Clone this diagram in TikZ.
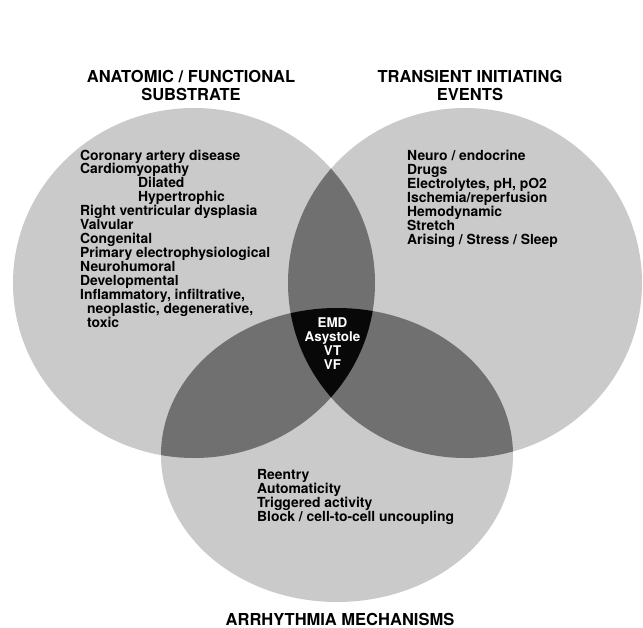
\documentclass[tikz,border=0pt]{standalone}
\usepackage{fontspec}
\setmainfont{TeX Gyre Heros}
\definecolor{onezone}{RGB}{202,202,202}
\definecolor{twozone}{RGB}{112,112,112}
\definecolor{threezone}{RGB}{8,8,8}
\begin{document}
\begin{tikzpicture}[x=1pt,y=-1pt,
  heading/.style={inner sep=0pt,anchor=base,align=center,
    font=\fontsize{16.5}{18}\selectfont\bfseries},
  listing/.style={inner sep=0pt,anchor=base west,align=left,
    font=\fontsize{13.9}{14}\selectfont\bfseries},
  core/.style={inner sep=0pt,anchor=base,align=center,text=white,
    font=\fontsize{13.4}{14.3}\selectfont\bfseries}]
\useasboundingbox (0,0) rectangle (643,628);
\fill[white] (0,0) rectangle (643,628);

% single sets
\fill[onezone] (194,283) ellipse [x radius=181pt, y radius=175pt];
\fill[onezone] (465,283) ellipse [x radius=177pt, y radius=175pt];
\fill[onezone] (337,455) ellipse [x radius=176pt, y radius=147pt];

% pairwise overlaps
\begin{scope}
  \clip (194,283) ellipse [x radius=181pt, y radius=175pt];
  \fill[twozone] (465,283) ellipse [x radius=177pt, y radius=175pt];
  \fill[twozone] (337,455) ellipse [x radius=176pt, y radius=147pt];
\end{scope}
\begin{scope}
  \clip (465,283) ellipse [x radius=177pt, y radius=175pt];
  \fill[twozone] (337,455) ellipse [x radius=176pt, y radius=147pt];
\end{scope}

% triple overlap
\begin{scope}
  \clip (194,283) ellipse [x radius=181pt, y radius=175pt];
  \clip (465,283) ellipse [x radius=177pt, y radius=175pt];
  \fill[threezone] (337,455) ellipse [x radius=176pt, y radius=147pt];
\end{scope}

% headings (the base anchor sits on the last line)
\node[heading] (substrate) at (191,101) {ANATOMIC / FUNCTIONAL\\SUBSTRATE};
\node[heading] (events) at (470,101) {TRANSIENT INITIATING\\EVENTS};
\node[heading] (mechanisms) at (340,625) {ARRHYTHMIA MECHANISMS};

% contents of each set
\node[listing] (substratelist) at (80,328) {Coronary artery disease\\
Cardiomyopathy\\
\hspace*{58pt}Dilated\\
\hspace*{58pt}Hypertrophic\\
Right ventricular dysplasia\\
Valvular\\
Congenital\\
Primary electrophysiological\\
Neurohumoral\\
Developmental\\
Inflammatory, infiltrative,\\
\hspace*{7pt}neoplastic, degenerative,\\
\hspace*{7pt}toxic};

\node[listing] (eventslist) at (407,245) {Neuro / endocrine\\
Drugs\\
Electrolytes, pH, pO2\\
Ischemia/reperfusion\\
Hemodynamic\\
Stretch\\
Arising / Stress / Sleep};

\node[listing] (mechanismslist) at (257,521) {Reentry\\
Automaticity\\
Triggered activity\\
Block / cell-to-cell uncoupling};

\node[core] (outcome) at (332.5,370) {EMD\\Asystole\\VT\\VF};
\end{tikzpicture}
\end{document}
